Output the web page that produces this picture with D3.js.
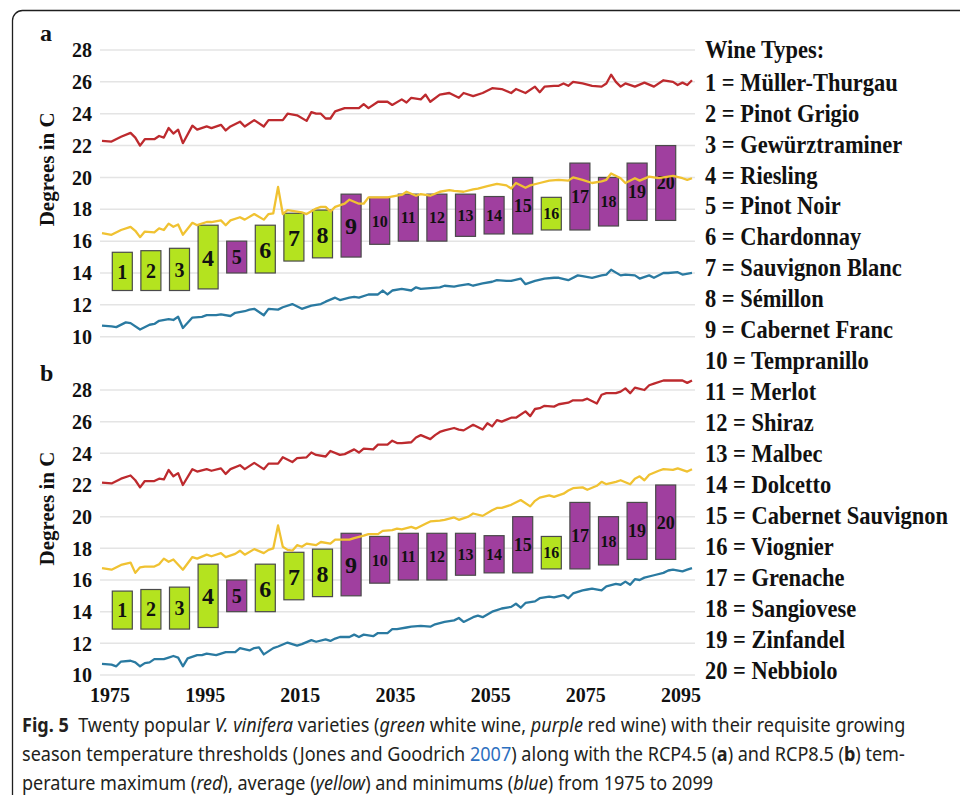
<!DOCTYPE html>
<html>
<head>
<meta charset="utf-8">
<script src="https://cdn.jsdelivr.net/npm/d3@7"></script>
<style>
  body { margin: 0; background: #fff; }
  svg { display: block; }
</style>
</head>
<body>
<svg></svg>
<script>
const RED = '#bd2a2e';
const YELLOW = '#f0c232';
const BLUE = '#2a7aa1';
const GREEN_FILL = '#b4e31f';
const PURPLE_FILL = '#a03f9f';

// wine types with growing season thresholds (deg C), white = green, red = purple
const wineIds = d3.range(1, 21);
const wineNames = ['Müller-Thurgau', 'Pinot Grigio', 'Gewürztraminer', 'Riesling', 'Pinot Noir',
  'Chardonnay', 'Sauvignon Blanc', 'Sémillon', 'Cabernet Franc', 'Tempranillo', 'Merlot', 'Shiraz',
  'Malbec', 'Dolcetto', 'Cabernet Sauvignon', 'Viognier', 'Grenache', 'Sangiovese', 'Zinfandel', 'Nebbiolo'];
const wineLow = [12.9, 12.9, 12.9, 13.0, 14.0, 14.0, 14.75, 14.95, 15.0, 15.8,
  16.0, 16.0, 16.3, 16.45, 16.45, 16.7, 16.7, 16.95, 17.3, 17.3];
const wineHigh = [15.3, 15.4, 15.55, 17.0, 16.0, 17.0, 17.75, 17.95, 18.95, 18.75,
  18.95, 18.95, 18.95, 18.8, 20.0, 18.75, 20.9, 20.0, 20.9, 22.0];
const wineKind = ['white', 'white', 'white', 'white', 'red', 'white', 'white', 'white', 'red', 'red',
  'red', 'red', 'red', 'red', 'red', 'white', 'red', 'red', 'red', 'red'];

const yTicks = [10, 12, 14, 16, 18, 20, 22, 24, 26, 28];
const xTicks = [1975, 1995, 2015, 2035, 2055, 2075, 2095];

// RCP4.5 (panel a), [year, degrees]
const maxA = [[1975,22.3],[1977,22.25],[1979,22.55],[1981,22.8],[1982,22.5],[1983,22.0],[1984,22.4],[1986,22.4],
  [1987,22.6],[1988,22.5],[1989,23.1],[1990,22.75],[1991,23.0],[1992,22.15],[1994,23.25],[1995,23.0],[1997,23.2],
  [1998,23.1],[2000,23.3],[2001,22.95],[2002,23.2],[2004,23.5],[2005,23.2],[2007,23.6],[2009,23.2],[2010,23.6],
  [2013,23.6],[2014,24.0],[2016,23.9],[2018,23.55],[2019,24.1],[2020,24.0],[2021,24.0],[2022,23.7],[2023,23.7],
  [2024,24.15],[2026,24.35],[2029,24.35],[2030,24.6],[2031,24.35],[2033,24.75],[2035,24.75],[2036,24.55],
  [2038,24.9],[2039,24.7],[2040,25.0],[2042,24.9],[2043,25.2],[2044,24.75],[2046,25.2],[2048,25.3],[2050,25.0],
  [2051,25.3],[2053,25.1],[2055,25.3],[2057,25.6],[2059,25.55],[2061,25.3],[2062,25.55],[2064,25.3],[2066,25.7],
  [2067,25.35],[2068,25.7],[2070,25.75],[2071,25.75],[2072,25.9],[2073,25.75],[2074,26.0],[2076,25.9],[2078,25.75],
  [2080,25.7],[2081,25.9],[2082,26.45],[2083,26.0],[2084,25.7],[2085,25.9],[2087,25.7],[2089,25.95],[2091,25.7],
  [2093,26.1],[2095,26.0],[2096,25.8],[2097,25.95],[2098,25.8],[2099,26.1]];
const avgA = [[1975,16.5],[1977,16.4],[1979,16.7],[1981,16.9],[1982,16.65],[1983,16.25],[1984,16.6],[1986,16.55],
  [1987,16.8],[1988,16.7],[1989,17.1],[1990,16.9],[1991,17.05],[1992,16.4],[1994,17.15],[1995,17.0],[1997,17.2],
  [1998,17.2],[2000,17.3],[2001,17.0],[2002,17.3],[2004,17.5],[2005,17.35],[2007,17.7],[2009,17.35],[2010,17.7],
  [2011,17.75],[2012,19.4],[2013,17.7],[2014,17.95],[2016,17.85],[2017,17.8],[2018,17.7],[2020,18.05],[2021,18.15],
  [2022,18.15],[2023,17.85],[2024,18.15],[2026,18.35],[2027,18.6],[2029,18.35],[2030,18.35],[2031,18.75],[2033,18.75],
  [2035,18.75],[2037,18.85],[2038,18.9],[2039,19.1],[2041,18.85],[2042,18.95],[2044,18.85],[2046,19.1],[2048,19.2],
  [2049,19.15],[2051,19.1],[2053,19.25],[2054,19.3],[2056,19.45],[2058,19.6],[2060,19.5],[2061,19.3],[2062,19.65],
  [2064,19.35],[2065,19.5],[2067,19.65],[2069,19.8],[2071,19.85],[2073,19.8],[2074,20.0],[2076,19.85],[2078,19.65],
  [2080,19.75],[2081,19.85],[2082,20.25],[2084,19.95],[2085,19.65],[2087,19.95],[2088,19.8],[2090,20.05],[2092,19.95],
  [2094,20.05],[2095,20.1],[2097,19.95],[2098,19.85],[2099,19.95]];
const minA = [[1975,10.7],[1977,10.65],[1978,10.6],[1980,10.9],[1981,10.85],[1983,10.45],[1985,10.75],[1986,10.8],
  [1987,11.0],[1989,11.1],[1990,11.05],[1991,11.25],[1992,10.55],[1994,11.2],[1996,11.25],[1997,11.35],[1999,11.35],
  [2000,11.4],[2002,11.3],[2003,11.5],[2005,11.6],[2006,11.7],[2007,11.75],[2009,11.35],[2010,11.75],[2012,11.7],
  [2013,11.85],[2015,12.05],[2017,11.75],[2019,11.95],[2021,12.05],[2022,12.2],[2024,12.45],[2025,12.3],[2027,12.45],
  [2028,12.5],[2029,12.45],[2031,12.65],[2033,12.65],[2034,12.9],[2035,12.65],[2036,12.9],[2038,13.0],[2040,12.9],
  [2041,13.1],[2042,13.0],[2044,13.05],[2046,13.1],[2047,13.2],[2049,13.15],[2050,13.2],[2052,13.3],[2053,13.2],
  [2055,13.35],[2057,13.45],[2058,13.55],[2060,13.5],[2061,13.5],[2063,13.65],[2064,13.3],[2066,13.5],[2068,13.65],
  [2070,13.7],[2071,13.7],[2073,13.55],[2075,13.85],[2076,13.8],[2078,13.7],[2080,13.85],[2081,13.9],[2082,14.2],
  [2084,13.85],[2085,13.9],[2087,13.85],[2088,13.65],[2090,13.85],[2091,13.7],[2093,14.0],[2094,14.0],[2096,14.05],
  [2097,13.9],[2099,14.0]];

// RCP8.5 (panel b)
const maxB = [[1975,22.15],[1977,22.1],[1979,22.4],[1981,22.6],[1982,22.3],[1983,21.85],[1984,22.25],[1986,22.25],
  [1987,22.4],[1988,22.35],[1989,22.95],[1990,22.55],[1991,22.75],[1992,22.0],[1994,23.0],[1995,22.85],[1997,23.0],
  [1998,22.9],[2000,23.05],[2001,22.7],[2002,23.0],[2004,23.25],[2005,23.0],[2007,23.4],[2009,23.0],[2010,23.35],
  [2012,23.35],[2013,23.75],[2015,23.45],[2016,23.7],[2018,23.75],[2019,24.05],[2020,23.9],[2022,23.8],[2023,24.15],
  [2025,23.9],[2026,23.95],[2028,24.25],[2029,24.05],[2030,24.3],[2032,24.25],[2033,24.55],[2035,24.55],[2036,24.8],
  [2037,24.65],[2038,24.65],[2040,24.7],[2041,25.0],[2042,25.15],[2044,24.9],[2045,25.15],[2046,25.35],[2047,25.45],
  [2049,25.6],[2050,25.5],[2051,25.45],[2053,25.8],[2055,25.5],[2056,25.9],[2057,25.7],[2058,26.1],[2059,26.0],
  [2061,26.25],[2062,26.25],[2064,26.65],[2065,26.35],[2066,26.8],[2067,26.85],[2068,27.0],[2070,26.95],[2071,27.1],
  [2073,27.2],[2074,27.35],[2076,27.35],[2077,27.45],[2079,27.15],[2080,27.7],[2081,27.8],[2083,27.8],[2084,27.9],
  [2085,28.1],[2086,27.8],[2087,28.15],[2089,28.0],[2090,28.3],[2091,28.4],[2093,28.6],[2095,28.6],[2097,28.6],
  [2098,28.45],[2099,28.6]];
const avgB = [[1975,16.75],[1977,16.65],[1979,16.95],[1981,17.1],[1982,16.45],[1983,16.8],[1984,16.85],[1986,16.85],
  [1987,17.0],[1988,17.35],[1989,17.15],[1990,17.3],[1992,16.65],[1994,17.45],[1995,17.35],[1997,17.6],[1998,17.5],
  [2000,17.7],[2001,17.45],[2003,17.65],[2004,17.85],[2005,17.6],[2007,17.95],[2009,17.7],[2010,17.9],[2011,18.0],
  [2012,19.45],[2013,18.1],[2014,17.9],[2015,17.85],[2016,18.2],[2017,18.1],[2018,18.3],[2020,18.2],[2021,18.4],
  [2023,18.3],[2024,18.55],[2025,18.55],[2027,18.55],[2028,18.65],[2030,18.8],[2031,18.9],[2033,18.9],[2034,19.1],
  [2036,19.15],[2037,19.25],[2038,19.2],[2040,19.35],[2041,19.25],[2043,19.55],[2044,19.7],[2046,19.75],[2047,19.8],
  [2049,19.95],[2050,19.8],[2052,20.0],[2053,20.2],[2055,20.05],[2057,20.4],[2058,20.55],[2059,20.55],[2061,20.75],
  [2063,21.05],[2065,20.65],[2066,21.0],[2067,21.2],[2069,21.35],[2070,21.25],[2072,21.45],[2073,21.65],[2074,21.8],
  [2076,21.85],[2077,21.7],[2079,21.95],[2080,22.2],[2081,22.05],[2083,22.2],[2084,22.3],[2086,22.05],[2087,22.4],
  [2088,22.55],[2089,22.3],[2090,22.65],[2092,22.9],[2093,23.0],[2095,22.95],[2096,23.05],[2098,22.85],[2099,23.0]];
const minB = [[1975,10.7],[1977,10.65],[1978,10.55],[1979,10.85],[1981,10.9],[1982,10.8],[1983,10.55],[1984,10.75],
  [1985,10.8],[1986,11.0],[1988,11.0],[1989,11.1],[1990,11.2],[1991,11.1],[1992,10.55],[1993,11.05],[1995,11.25],
  [1996,11.25],[1997,11.35],[1999,11.25],[2000,11.35],[2001,11.45],[2003,11.45],[2004,11.7],[2006,11.55],[2007,11.7],
  [2008,11.75],[2009,11.3],[2011,11.7],[2012,11.8],[2014,12.05],[2016,11.85],[2017,11.95],[2019,12.2],[2020,12.1],
  [2022,12.25],[2023,12.15],[2024,12.3],[2025,12.4],[2027,12.4],[2028,12.55],[2029,12.4],[2030,12.55],[2032,12.45],
  [2033,12.65],[2035,12.65],[2036,12.9],[2037,12.9],[2039,13.0],[2040,13.05],[2042,13.1],[2044,13.05],[2045,13.2],
  [2047,13.35],[2049,13.45],[2050,13.6],[2051,13.35],[2053,13.65],[2054,13.75],[2055,13.65],[2057,14.0],[2058,14.1],
  [2059,14.2],[2061,14.3],[2062,14.5],[2063,14.25],[2064,14.55],[2066,14.65],[2067,14.85],[2069,14.95],[2070,14.9],
  [2072,15.05],[2073,14.85],[2074,15.15],[2076,15.35],[2077,15.4],[2078,15.45],[2080,15.35],[2081,15.6],[2083,15.75],
  [2084,15.7],[2085,15.9],[2086,15.7],[2087,16.05],[2088,16.0],[2089,16.15],[2091,16.3],[2093,16.45],[2094,16.6],
  [2095,16.65],[2097,16.55],[2098,16.65],[2099,16.75]];

const svg = d3.select("svg")
  .attr("width", 960)
  .attr("height", 795);

// page frame with rounded corner
svg.append("rect")
  .attr("x", 12.5).attr("y", 10.5)
  .attr("width", 1000).attr("height", 900)
  .attr("rx", 10)
  .attr("fill", "none")
  .attr("stroke", "#1e1e1e")
  .attr("stroke-width", 1.3);

const x = d3.scaleLinear()
  .domain([1975, 2099])
  .range([102, 692]);

const band = d3.scaleBand()
  .domain(wineIds)
  .range([108, 680])
  .paddingInner(0.3)
  .paddingOuter(0.15);

const serif = "'Liberation Serif', 'Times New Roman', serif";

function drawPanel(letter, top, bottom, series) {
  const y = d3.scaleLinear().domain([10, 28]).range([bottom, top]);
  const g = svg.append("g");

  g.selectAll(".grid")
    .data(yTicks)
    .enter().append("line")
    .attr("x1", 100).attr("x2", 695)
    .attr("y1", d => y(d)).attr("y2", d => y(d))
    .attr("stroke", "#e4e4e4")
    .attr("stroke-width", 1.5);

  g.selectAll(".ytick")
    .data(yTicks)
    .enter().append("text")
    .attr("x", 92)
    .attr("y", d => y(d))
    .attr("dy", "0.36em")
    .attr("text-anchor", "end")
    .attr("font-family", serif)
    .attr("font-weight", "bold")
    .attr("font-size", 20)
    .attr("fill", "#111")
    .text(d => d);

  g.append("text")
    .attr("transform", `translate(54,${(top + bottom) / 2 - 24}) rotate(-90)`)
    .attr("text-anchor", "middle")
    .attr("font-family", serif)
    .attr("font-weight", "bold")
    .attr("font-size", 21)
    .attr("fill", "#111")
    .text("Degrees in C");

  g.append("text")
    .attr("x", 40).attr("y", top - 9)
    .attr("font-family", serif)
    .attr("font-weight", "bold")
    .attr("font-size", 24)
    .attr("fill", "#111")
    .text(letter);

  // threshold bars
  g.selectAll(".bar")
    .data(wineIds)
    .enter().append("rect")
    .attr("x", d => band(d))
    .attr("width", band.bandwidth())
    .attr("y", d => y(wineHigh[d - 1]))
    .attr("height", d => y(wineLow[d - 1]) - y(wineHigh[d - 1]))
    .attr("fill", d => wineKind[d - 1] === 'white' ? GREEN_FILL : PURPLE_FILL)
    .attr("stroke", "#4a4a4a")
    .attr("stroke-width", 1.2);

  g.selectAll(".bar-label")
    .data(wineIds)
    .enter().append("text")
    .attr("x", d => band(d) + band.bandwidth() / 2)
    .attr("y", d => y((wineLow[d - 1] + wineHigh[d - 1]) / 2))
    .attr("dy", "0.36em")
    .attr("text-anchor", "middle")
    .attr("font-family", serif)
    .attr("font-weight", "bold")
    .attr("font-size", d => {
      const h = y(wineLow[d - 1]) - y(wineHigh[d - 1]);
      if (d < 10) return h > 45 ? 24 : 20;
      return h > 50 ? 18 : 16;
    })
    .attr("fill", "#111")
    .text(d => d);

  const line = d3.line()
    .x(d => x(d[0]))
    .y(d => y(d[1]));

  series.forEach(s => {
    g.append("path")
      .datum(s.values)
      .attr("d", line)
      .attr("fill", "none")
      .attr("stroke", s.color)
      .attr("stroke-width", 2.3)
      .attr("stroke-linejoin", "round");
  });
}

drawPanel("a", 50, 336.7, [
  { values: maxA, color: RED },
  { values: avgA, color: YELLOW },
  { values: minA, color: BLUE }
]);
drawPanel("b", 390, 675, [
  { values: maxB, color: RED },
  { values: avgB, color: YELLOW },
  { values: minB, color: BLUE }
]);

// year labels under panel b
svg.selectAll(".xtick")
  .data(xTicks)
  .enter().append("text")
  .attr("x", d => x(d) + 8)
  .attr("y", 702)
  .attr("text-anchor", "middle")
  .attr("font-family", serif)
  .attr("font-weight", "bold")
  .attr("font-size", 20)
  .attr("fill", "#111")
  .text(d => d);

// legend of wine types
const legend = svg.append("g");
legend.append("text")
  .attr("x", 0).attr("y", 58)
  .attr("font-family", serif)
  .attr("font-weight", "bold")
  .attr("font-size", 25)
  .attr("fill", "#111")
  .text("Wine Types:");
legend.selectAll(".legend-item")
  .data(wineIds)
  .enter().append("text")
  .attr("class", "legend-item")
  .attr("x", 0)
  .attr("y", d => 90.7 + (d - 1) * 30.95)
  .attr("font-family", serif)
  .attr("font-weight", "bold")
  .attr("font-size", 25)
  .attr("fill", "#111")
  .text(d => `${d} = ${wineNames[d - 1]}`);
const widest = d3.max(legend.selectAll(".legend-item").nodes(), n => n.getComputedTextLength());
legend.attr("transform", `translate(705,0) scale(${243 / widest},1)`);

// caption
const captionLines = [
  [["Fig. 5", "b"], ["  Twenty popular "], ["V. vinifera", "i"], [" varieties ("], ["green", "i"],
    [" white wine, "], ["purple", "i"], [" red wine) with their requisite growing"]],
  [["season temperature thresholds (Jones and Goodrich "], ["2007", "link"], [") along with the RCP4.5 ("],
    ["a", "b"], [") and RCP8.5 ("], ["b", "b"], [") tem-"]],
  [["perature maximum ("], ["red", "i"], ["), average ("], ["yellow", "i"], [") and minimums ("],
    ["blue", "i"], [") from 1975 to 2099"]]
];
const captionWidth = [884, 884, null];
let lastScale = 0.8;
captionLines.forEach((segs, i) => {
  const cg = svg.append("g");
  const t = cg.append("text")
    .attr("x", 0).attr("y", 0)
    .attr("font-family", "'Noto Sans', 'Open Sans', sans-serif")
    .attr("font-size", 20)
    .attr("fill", "#231f20")
    .style("white-space", "pre");
  segs.forEach(s => {
    const span = t.append("tspan").text(s[0]);
    if (s[1] === "b") span.attr("font-weight", "bold");
    if (s[1] === "i") span.attr("font-style", "italic");
    if (s[1] === "link") span.attr("fill", "#2d6fc0");
  });
  const w = t.node().getComputedTextLength();
  const k = captionWidth[i] ? captionWidth[i] / w : lastScale;
  lastScale = k;
  cg.attr("transform", `translate(22,${732 + i * 29}) scale(${k},1)`);
});
</script>
</body>
</html>
